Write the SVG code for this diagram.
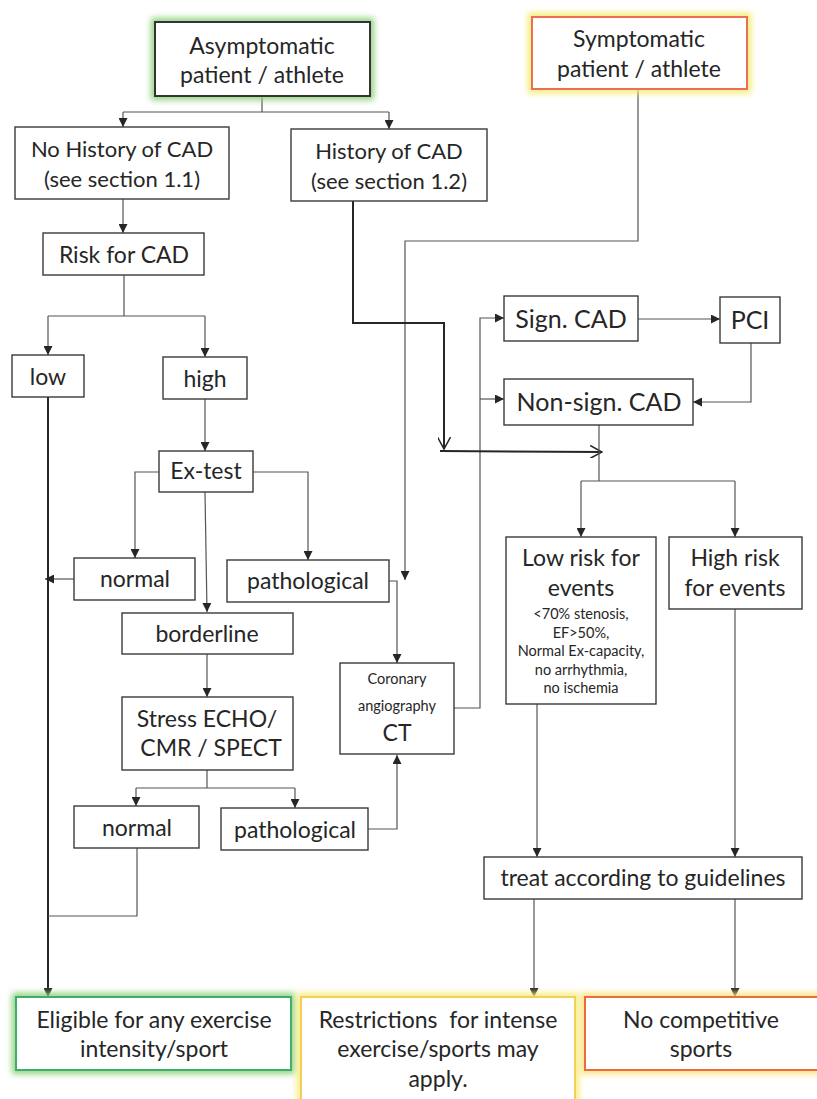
<svg xmlns="http://www.w3.org/2000/svg" width="817" height="1099" viewBox="0 0 817 1099">
<style>
text{font-family:Lato,"Open Sans","Liberation Sans",sans-serif;fill:#262626;text-anchor:middle;font-size:23px}
.sm{font-size:14.5px}
.md{font-size:14.5px}
.lg{font-size:25px}
.nh{font-size:22px}
.box{fill:#fff;stroke:#3a3a3a;stroke-width:1.4}
.c{fill:none;stroke:#555;stroke-width:1.2}
.t{fill:none;stroke:#262626;stroke-width:2}
.glow{fill:none;stroke-width:8;filter:url(#blur)}
</style>
<defs>
<filter id="blur" x="-20%" y="-40%" width="140%" height="180%"><feGaussianBlur stdDeviation="3"/></filter>
<marker id="a" viewBox="0 0 10 10" refX="10" refY="5" markerWidth="9" markerHeight="9" markerUnits="userSpaceOnUse" orient="auto"><path d="M0,0 L10,5 L0,10 z" fill="#262626"/></marker>
<marker id="v" viewBox="0 0 12 12" refX="11" refY="6" markerWidth="13" markerHeight="13" markerUnits="userSpaceOnUse" orient="auto"><path d="M0,0 L11,6 L0,12" fill="none" stroke="#262626" stroke-width="1.4"/></marker>
</defs>
<rect width="817" height="1099" fill="#fff"/>

<g id="connectors">
<path class="c" d="M262,96 V112 M123,112 H389"/>
<path class="c" d="M123,112 V127" marker-end="url(#a)"/>
<path class="c" d="M389,112 V129" marker-end="url(#a)"/>
<path class="c" d="M123,199 V233" marker-end="url(#a)"/>
<path class="c" d="M124,275 V316 M48,316 H205"/>
<path class="c" d="M48,316 V355" marker-end="url(#a)"/>
<path class="c" d="M205,316 V357" marker-end="url(#a)"/>
<path class="c" d="M205,399 V451" marker-end="url(#a)"/>
<path class="c" d="M159,472 H135 V558" marker-end="url(#a)"/>
<path class="c" d="M253,472 H308 V560" marker-end="url(#a)"/>
<path class="c" d="M205,492 L207,612" marker-end="url(#a)"/>
<path class="c" d="M74,579 H45" marker-end="url(#a)"/>
<path class="t" d="M48,397 V997" marker-end="url(#a)"/>
<path class="c" d="M389,581 H397 V663" marker-end="url(#a)"/>
<path class="c" d="M638,89 V241 H405 V580" marker-end="url(#a)"/>
<path class="c" d="M207,654 V697" marker-end="url(#a)"/>
<path class="c" d="M207,770 V788 M136,788 H295"/>
<path class="c" d="M136,788 V806" marker-end="url(#a)"/>
<path class="c" d="M295,788 V808" marker-end="url(#a)"/>
<path class="c" d="M368,829 H397 V755" marker-end="url(#a)"/>
<path class="c" d="M137,848 V916 H48"/>
<path class="c" d="M454,708 H480 V318 H504" marker-end="url(#a)"/>
<path class="c" d="M480,399 H504" marker-end="url(#a)"/>
<path class="c" d="M638,319 H720" marker-end="url(#a)"/>
<path class="c" d="M751,343 V402 H693" marker-end="url(#a)"/>
<path class="t" d="M353,201 V323 H444 V449" marker-end="url(#v)"/>
<path class="t" d="M440,451 L602,452" marker-end="url(#v)"/>
<path class="c" d="M599,425 V481 M581,481 H735"/>
<path class="c" d="M581,481 V537" marker-end="url(#a)"/>
<path class="c" d="M735,481 V537" marker-end="url(#a)"/>
<path class="c" d="M537,704 V857" marker-end="url(#a)"/>
<path class="c" d="M735,609 V857" marker-end="url(#a)"/>
<path class="c" d="M534,899 V997" marker-end="url(#a)"/>
<path class="c" d="M735,899 V997" marker-end="url(#a)"/>
</g>

<g id="asymptomatic">
<rect class="glow" x="155" y="22" width="215" height="74" stroke="#8fd17c"/>
<rect x="155" y="22" width="215" height="74" fill="#fff" stroke="#333" stroke-width="2"/>
<text x="262" y="54">Asymptomatic</text>
<text x="262" y="83">patient / athlete</text>
</g>
<g id="symptomatic">
<rect class="glow" x="532" y="17" width="215" height="72" stroke="#f4ec6e"/>
<rect x="532" y="17" width="215" height="72" fill="#fff" stroke="#ee6e55" stroke-width="2"/>
<text x="639" y="47">Symptomatic</text>
<text x="639" y="77">patient / athlete</text>
</g>
<g id="no-history">
<rect class="box" x="15" y="127" width="214" height="72"/>
<text class="nh" x="122" y="157">No History of CAD</text>
<text class="nh" x="122" y="187">(see section 1.1)</text>
</g>
<g id="history">
<rect class="box" x="291" y="129" width="196" height="72"/>
<text class="nh" x="389" y="159">History of CAD</text>
<text class="nh" x="389" y="189">(see section 1.2)</text>
</g>
<g id="risk">
<rect class="box" x="43" y="233" width="161" height="42"/>
<text x="124" y="263">Risk for CAD</text>
</g>
<g id="low">
<rect class="box" x="12" y="355" width="72" height="42"/>
<text x="48" y="385">low</text>
</g>
<g id="high">
<rect class="box" x="163" y="357" width="84" height="42"/>
<text x="205" y="387">high</text>
</g>
<g id="ex-test">
<rect class="box" x="159" y="451" width="94" height="41"/>
<text x="206" y="479">Ex-test</text>
</g>
<g id="normal1">
<rect class="box" x="74" y="558" width="121" height="42"/>
<text x="135" y="587">normal</text>
</g>
<g id="pathological1">
<rect class="box" x="227" y="560" width="162" height="42"/>
<text x="308" y="589">pathological</text>
</g>
<g id="borderline">
<rect class="box" x="122" y="613" width="171" height="41"/>
<text x="207" y="642">borderline</text>
</g>
<g id="stress">
<rect class="box" x="122" y="697" width="171" height="73"/>
<text x="207" y="727">Stress ECHO/</text>
<text x="211" y="756">CMR / SPECT</text>
</g>
<g id="normal2">
<rect class="box" x="74" y="806" width="125" height="42"/>
<text x="137" y="836">normal</text>
</g>
<g id="pathological2">
<rect class="box" x="221" y="808" width="147" height="42"/>
<text x="295" y="838">pathological</text>
</g>
<g id="coronary">
<rect class="box" x="340" y="663" width="114" height="91"/>
<text class="md" x="397" y="684">Coronary</text>
<text class="md" x="397" y="711">angiography</text>
<text x="397" y="741">CT</text>
</g>
<g id="sign-cad">
<rect class="box" x="504" y="296" width="134" height="45"/>
<text class="lg" x="571" y="328">Sign. CAD</text>
</g>
<g id="pci">
<rect class="box" x="720" y="297" width="60" height="46"/>
<text class="lg" x="750" y="329">PCI</text>
</g>
<g id="non-sign-cad">
<rect class="box" x="504" y="379" width="189" height="46"/>
<text class="lg" x="599" y="411">Non-sign. CAD</text>
</g>
<g id="low-risk">
<rect class="box" x="506" y="537" width="150" height="167"/>
<text x="581" y="566">Low risk for</text>
<text x="581" y="596">events</text>
<text class="sm" x="581" y="619">&lt;70% stenosis,</text>
<text class="sm" x="581" y="637.5">EF&gt;50%,</text>
<text class="sm" x="581" y="656">Normal Ex-capacity,</text>
<text class="sm" x="581" y="674.5">no arrhythmia,</text>
<text class="sm" x="581" y="693">no ischemia</text>
</g>
<g id="high-risk">
<rect class="box" x="669" y="537" width="133" height="72"/>
<text x="735" y="566">High risk</text>
<text x="735" y="596">for events</text>
</g>
<g id="treat">
<rect class="box" x="484" y="857" width="318" height="42"/>
<text x="643" y="886">treat according to guidelines</text>
</g>
<g id="eligible">
<rect class="glow" x="16" y="997" width="275" height="73" stroke="#8fd17c"/>
<rect x="16" y="997" width="275" height="73" fill="#fff" stroke="#3cae6a" stroke-width="2"/>
<text x="154" y="1028">Eligible for any exercise</text>
<text x="154" y="1057">intensity/sport</text>
</g>
<g id="restrictions">
<rect class="glow" x="301" y="997" width="274" height="115" stroke="#f8ec7a"/>
<rect x="301" y="997" width="274" height="115" fill="#fff" stroke="#f2cf58" stroke-width="2"/>
<text x="438" y="1028">Restrictions&#160; for intense</text>
<text x="438" y="1057">exercise/sports may</text>
<text x="438" y="1087">apply.</text>
</g>
<g id="no-competitive">
<rect class="glow" x="585" y="997" width="250" height="73" stroke="#f8e27a"/>
<rect x="585" y="997" width="250" height="73" fill="#fff" stroke="#ee6a3c" stroke-width="2"/>
<text x="701" y="1028">No competitive</text>
<text x="701" y="1057">sports</text>
</g>
</svg>
